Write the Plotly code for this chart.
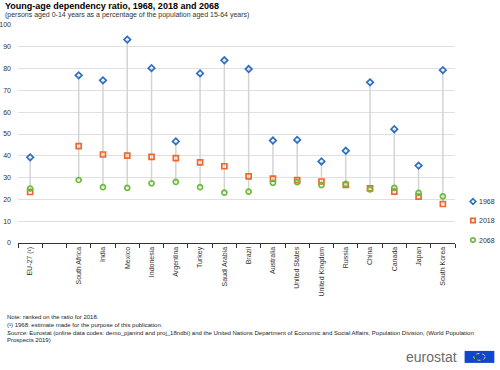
import plotly.graph_objects as go

categories = ["EU-27 (\u00b9)", " ", "South Africa", "India", "Mexico", "Indonesia", "Argentina",
              "Turkey", "Saudi Arabia", "Brazil", "Australia", "United States", "United Kingdom",
              "Russia", "China", "Canada", "Japan", "South Korea"]
countries = [c for c in categories if c != " "]
v1968 = [39.3, 76.9, 74.6, 93.3, 80.2, 46.6, 77.8, 83.8, 79.8, 47.0, 47.3, 37.4, 42.3, 73.7, 52.2, 35.5, 79.3]
v2018 = [23.4, 44.4, 40.6, 40.1, 39.5, 38.9, 37.0, 35.2, 30.6, 29.5, 28.8, 28.2, 26.6, 25.1, 23.6, 21.3, 17.9]
v2068 = [25.0, 28.9, 25.6, 25.3, 27.4, 28.0, 25.6, 23.1, 23.6, 27.6, 27.9, 26.6, 27.1, 24.6, 25.3, 23.0, 21.4]
yticks = list(range(0, 101, 10))
series_names = ["1968", "2018", "2068"]
colors = ["#2f6fc2", "#f0672b", "#6cbb3c"]

fig = go.Figure()

# connector lines (min to max of each country)
lx, ly = [], []
for c, a, b, d in zip(countries, v1968, v2018, v2068):
    lx += [c, c, None]
    ly += [min(a, b, d), max(a, b, d), None]
fig.add_trace(go.Scatter(x=lx, y=ly, mode="lines", line=dict(color="#d4d4d4", width=1.5),
                         showlegend=False, hoverinfo="skip"))

symbols = ["diamond-open", "square-open", "circle-open"]
sizes = [5, 5, 5]
for name, vals, sym, col, sz in zip(series_names, [v1968, v2018, v2068], symbols, colors, sizes):
    fig.add_trace(go.Scatter(x=countries, y=vals, mode="markers", name=name, showlegend=False,
                             marker=dict(symbol=sym, size=sz, color=col, line=dict(width=1.7, color=col))))

PW, PH = 437.0, 218.0  # plot area size in px (for legend glyph sizing)

fig.update_layout(
    width=500, height=370,
    margin=dict(l=18, r=45, t=25, b=127, autoexpand=False),
    paper_bgcolor="white", plot_bgcolor="white",
    font=dict(family="Liberation Sans, Arial, sans-serif", size=7, color="#333333"),
    showlegend=False,
    xaxis=dict(type="category", categoryorder="array", categoryarray=categories, automargin=False,
               range=[-0.5, len(categories) - 0.5], tickangle=-90, tickson="boundaries",
               ticks="outside", ticklen=4, tickcolor="#333", showgrid=False,
               showline=True, linecolor="#333", linewidth=1, tickfont=dict(size=7, color="#333")),
    yaxis=dict(range=[0, 100], tickvals=yticks, showgrid=True, gridcolor="#e0e0e0", gridwidth=1,
               automargin=False, zeroline=False, showline=False, ticks="", ticklabelstandoff=6,
               tickfont=dict(size=7, color="#333")),
)

# manual legend
leg_x = (473 - 18) / PW
leg_ys = [(243 - 201.5) / PH, (243 - 220.5) / PH, (243 - 240) / PH]
w, h = 2.2 / PW, 2.2 / PH
for i, (name, col, ly0) in enumerate(zip(series_names, colors, leg_ys)):
    if i == 0:
        path = (f"M {leg_x},{ly0 + h * 1.25} L {leg_x + w * 1.25},{ly0} L {leg_x},{ly0 - h * 1.25} "
                f"L {leg_x - w * 1.25},{ly0} Z")
        fig.add_shape(type="path", xref="paper", yref="paper", path=path, line=dict(color=col, width=1.7))
    elif i == 1:
        fig.add_shape(type="rect", xref="paper", yref="paper", x0=leg_x - w, x1=leg_x + w,
                      y0=ly0 - h, y1=ly0 + h, line=dict(color=col, width=1.7))
    else:
        fig.add_shape(type="circle", xref="paper", yref="paper", x0=leg_x - w, x1=leg_x + w,
                      y0=ly0 - h, y1=ly0 + h, line=dict(color=col, width=1.7))
    fig.add_annotation(xref="paper", yref="paper", x=leg_x + 3.5 / PW, y=ly0, xanchor="left",
                       yanchor="middle", text=name, showarrow=False, font=dict(size=7, color="#333"))

fig.add_annotation(xref="paper", yref="paper", x=-0.034, y=1.087, xanchor="left", yanchor="middle",
                   text="<b>Young-age dependency ratio, 1968, 2018 and 2068</b>", showarrow=False,
                   font=dict(size=9, color="#000"))
fig.add_annotation(xref="paper", yref="paper", x=-0.034, y=1.046, xanchor="left", yanchor="middle",
                   text="(persons aged 0-14 years as a percentage of the population aged 15-64 years)",
                   showarrow=False, font=dict(size=7, color="#333"))

notes = ("Note: ranked on the ratio for 2018.<br>"
         "(\u00b9) 1968: estimate made for the purpose of this publication.<br>"
         "<i>Source:</i> Eurostat (online data codes: demo_pjanind and proj_18ndbi) and the United Nations Department of Economic and Social Affairs, Population Division, (World Population<br>"
         "Prospects 2019)")
fig.add_annotation(xref="paper", yref="paper", x=-0.03, y=-0.315, xanchor="left", yanchor="top",
                   text=notes, showarrow=False, align="left", font=dict(size=6, color="#222"))

fig.add_annotation(xref="paper", yref="paper", x=1.01, y=-0.522, xanchor="right", yanchor="middle",
                   text="eurostat", showarrow=False, font=dict(size=14, color="#6b6b6b"))
fig.add_shape(type="rect", xref="paper", yref="paper", x0=1.022, x1=1.09, y0=-0.55, y1=-0.495,
              fillcolor="#0e47cb", line=dict(width=0))
fig.add_shape(type="circle", xref="paper", yref="paper", x0=1.043, x1=1.069, y0=-0.538, y1=-0.507,
              line=dict(color="#ffdd00", width=1, dash="dot"))

fig.write_html("out.html", config={"displayModeBar": False},
               post_script="document.body.style.margin='0px';")
